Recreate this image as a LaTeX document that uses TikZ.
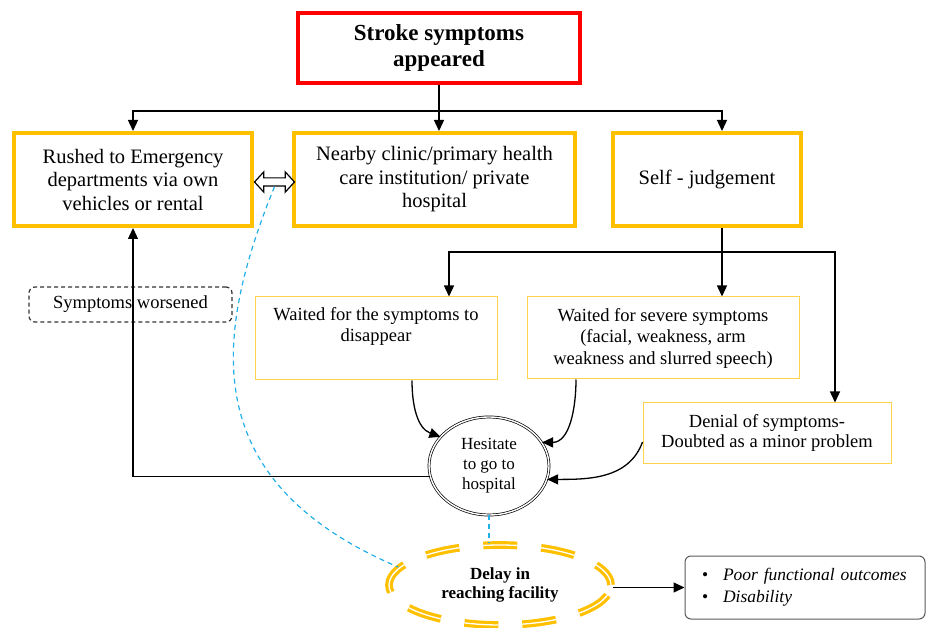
\documentclass[tikz,border=0pt]{standalone}
\usepackage{fontspec}
\setmainfont{Liberation Serif}
\usetikzlibrary{arrows.meta,shapes.geometric,shapes.arrows}
\definecolor{gold}{HTML}{FFC000}
\definecolor{lgold}{HTML}{FFD24D}
\definecolor{skyblue}{HTML}{22AEE8}
\definecolor{redbox}{HTML}{FF0000}
\tikzset{
  arr/.style={-{Triangle[length=11pt,width=10pt]}, line width=1.3pt},
  ln/.style={line width=1.3pt},
  topbox/.style={draw=redbox, line width=3.5pt, minimum width=282pt, minimum height=70pt, align=center,
    font=\fontsize{23}{26}\selectfont\bfseries},
  bigbox/.style={draw=gold, line width=4pt, minimum height=93pt, align=center, inner sep=0pt,
    font=\fontsize{20.5}{23.5}\selectfont},
  thinbox/.style={draw=lgold, line width=1pt, align=center, inner sep=0pt,
    font=\fontsize{18.5}{21.5}\selectfont},
  hesbox/.style={ellipse, draw, line width=0.7pt, double, double distance=1.4pt, minimum width=120pt,
    minimum height=98pt, align=center, inner sep=0pt, font=\fontsize{17}{20}\selectfont},
  delaybox/.style={ellipse, draw=gold, line width=3.2pt, double=white, double distance=1.3pt,
    dash pattern=on 34pt off 24pt, dash phase=8pt, minimum width=222pt, minimum height=80pt, align=center,
    inner sep=0pt, font=\fontsize{17}{18.5}\selectfont\bfseries},
  worsebox/.style={draw=black!80, dash pattern=on 4pt off 3pt, line width=1.2pt, rounded corners=6pt,
    minimum width=203pt, minimum height=35pt, font=\fontsize{18.5}{21.5}\selectfont},
  resbox/.style={draw=black!65, line width=1pt, rounded corners=6pt, minimum width=240pt, minimum height=63pt,
    text width=206pt, inner xsep=17pt, align=left, font=\fontsize{17.5}{22}\selectfont},
  bluedash/.style={draw=skyblue, line width=1.2pt, dash pattern=on 5pt off 4pt},
  dblarrow/.style={double arrow, draw, line width=1.2pt, fill=white, minimum height=40pt, minimum width=20pt,
    double arrow head extend=6pt, inner sep=3.5pt, double arrow tip angle=95}
}
\begin{document}
\begin{tikzpicture}[x=1pt,y=-1pt]
\useasboundingbox (0,0) rectangle (927,628);

\node[topbox] (red) at (439,48) {Stroke symptoms\\appeared};

\node[bigbox, minimum width=238pt] (rushed) at (133,179.5) {Rushed to Emergency\\departments via own\\vehicles or rental};
\node[bigbox, minimum width=281pt] (nearby) at (434.5,179.5) {Nearby clinic/primary health\\care institution/ private\\hospital};
\node[bigbox, minimum width=188pt] (self) at (707,179.5) {Self - judgement};

\node[dblarrow] (dbl) at (274.5,182) {};

\node[thinbox, minimum width=242pt, minimum height=83pt] (waited) at (376,338.5) {Waited for the symptoms to\\disappear\\\strut};
\node[thinbox, minimum width=272pt, minimum height=82pt] (severe) at (663,338) {Waited for severe symptoms\\(facial, weakness, arm\\weakness and slurred speech)};
\node[thinbox, minimum width=248pt, minimum height=60pt, font=\fontsize{18.5}{20.5}\selectfont] (denial) at (767,433) {Denial of symptoms-\\Doubted as a minor problem};

\node[worsebox] (worse) at (130.5,304.5) {Symptoms worsened};

\node[hesbox] (hes) at (489,466) {Hesitate\\to go to\\hospital};

\node[delaybox] (delay) at (500,585) {Delay in\\reaching facility};

\node[resbox] (res) at (805,587.5) {\makebox[21pt][l]{\textbullet}\textit{Poor functional outcomes}\\\makebox[21pt][l]{\textbullet}\textit{Disability}};

% top connectors
\coordinate (hub) at (439,111);
\draw[ln] (red.south) -- (hub);
\draw[arr] (hub) -| (rushed.north);
\draw[arr] (hub) -- (hub |- nearby.north);
\draw[arr] (hub) -| ([xshift=15pt]self.north);

% self-judgement branches
\coordinate (sj) at (722,252);
\draw[ln] (self.south -| sj) -- (sj);
\draw[arr] (sj) -| ([xshift=73pt]waited.north);
\draw[arr] (sj) -- (sj |- severe.north);
\draw[arr] (sj) -| ([xshift=68pt]denial.north);

% into hesitate
\draw[arr] ([xshift=36pt]waited.south) to[out=-90, in=160] (hes.149);
\draw[arr] ([xshift=-87pt]severe.south) to[out=-90, in=0] (hes.24);
\draw[arr] ([yshift=-9pt]denial.west) to[out=250, in=0] (hes.-13);

% back to rushed
\draw[arr] (hes.190) -| (rushed.south);

% blue dashed links
\draw[bluedash] (hes.south) -- (hes.south |- delay.north);
\draw[bluedash] (dbl.south) .. controls (212,340) and (198,482) .. (delay.170);

% outcome
\draw[arr] (res.west -| delay.east) -- (res.west);
\end{tikzpicture}
\end{document}
